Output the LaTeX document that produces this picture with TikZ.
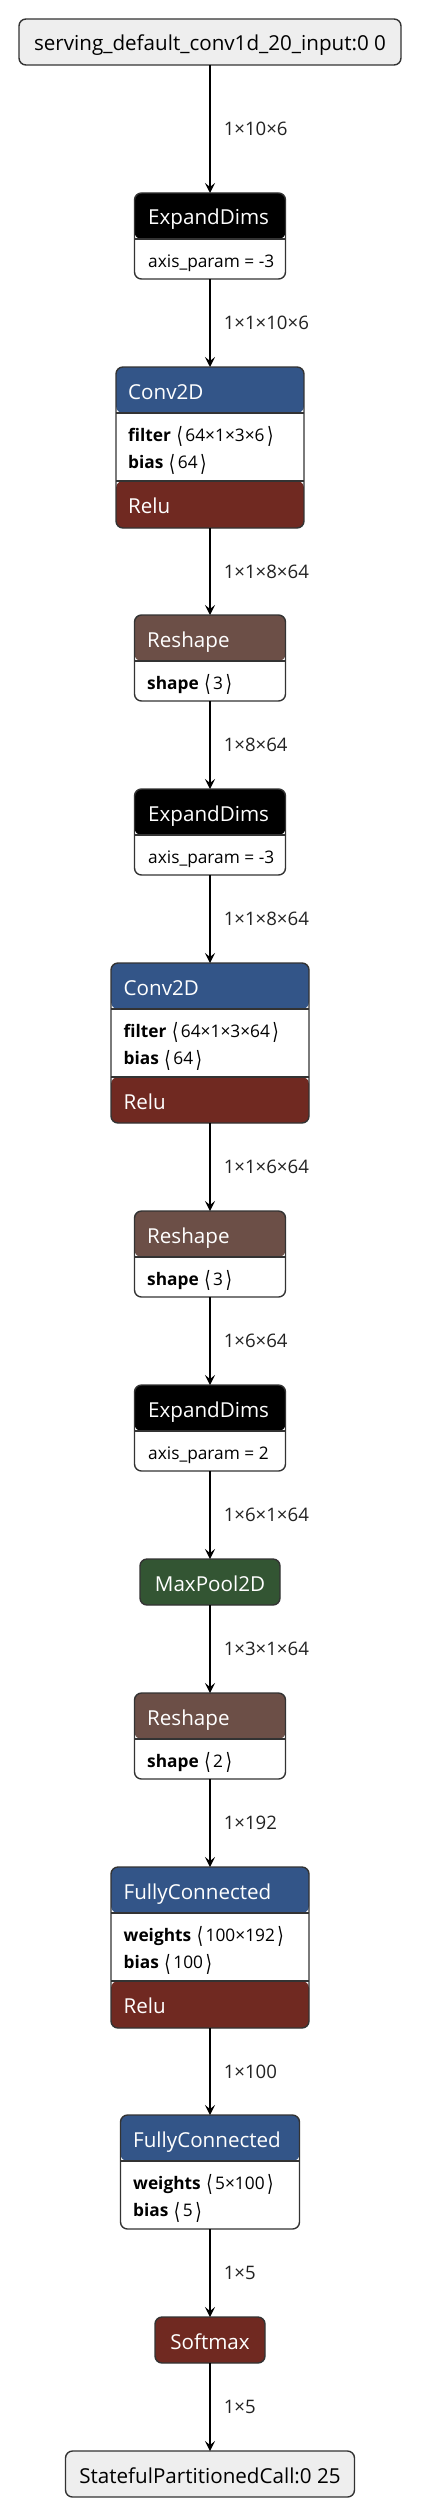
\documentclass[tikz,border=0pt]{standalone}
\usepackage{fontspec}
\usepackage{graphicx}
\setmainfont{Open Sans}
\newfontfamily\symf{DejaVu Sans}
\usetikzlibrary{arrows.meta}
\definecolor{framec}{HTML}{333333}
\definecolor{layerc}{RGB}{51,85,136}
\definecolor{actc}{RGB}{112,41,33}
\definecolor{shapec}{RGB}{108,79,71}
\definecolor{poolc}{RGB}{51,85,51}
\definecolor{ioc}{HTML}{EEEEEE}
\definecolor{labelc}{HTML}{222222}
\newcommand\lb{\hspace{1pt}\raisebox{-0.16em}{\scalebox{0.95}[1.3]{\symf ⟨}}\hspace{2.5pt}}
\newcommand\rb{\hspace{2.5pt}\raisebox{-0.16em}{\scalebox{0.95}[1.3]{\symf ⟩}}}
\newcommand\band[3]{\fill[#3] ([yshift=-#1pt]path picture bounding box.north west) rectangle ([yshift=-#2pt]path picture bounding box.north east);}
\newcommand\divl[1]{\draw[framec, line width=1.4pt] ([yshift=-#1pt]path picture bounding box.north west) -- ([yshift=-#1pt]path picture bounding box.north east);}
\begin{document}
\begin{tikzpicture}[x=1pt, y=-1pt,
  frame/.style={draw=framec, line width=1.4pt, rounded corners=7pt, inner sep=0pt, outer sep=0pt, fill=white},
  io/.style={frame, fill=ioc, text=black, font=\fontsize{20.6}{24}\selectfont, text height=18pt, text depth=0pt},
  simple/.style={frame, text=white, font=\fontsize{20.6}{24}\selectfont, text height=18pt, text depth=0pt},
  title/.style={anchor=base west, inner sep=0pt, text=white, font=\fontsize{20.6}{24}\selectfont},
  attr/.style={anchor=base west, inner sep=0pt, text=black, font=\fontsize{17.3}{20}\selectfont},
  edge/.style={draw=black, line width=1.6pt, -{Stealth[length=10pt, width=10pt, inset=4pt]}},
  elabel/.style={anchor=west, inner sep=0pt, xshift=13pt, text=labelc, font=\fontsize{18.6}{22}\selectfont}
]
\useasboundingbox (0,0) rectangle (422,2518);

% input
\node[io, minimum width=382pt, minimum height=46pt] (in) at (210,42) {serving\_default\_conv1d\_20\_input:0 0};

% ExpandDims 1
\node[frame, minimum width=151pt, minimum height=86pt, path picture={\band{0}{46}{black}\divl{46}}] (exp1) at (210,236) {};
\node[title] (exp1t) at (148,225) {ExpandDims};
\node[attr] (exp1a) at (148,267) {axis\_param = -3};

% Conv2D 1
\node[frame, minimum width=188pt, minimum height=161pt, path picture={\band{0}{46}{layerc}\band{114}{200}{actc}\divl{46}\divl{114}}] (conv1) at (210,447.5) {};
\node[title] (conv1t) at (128,399) {Conv2D};
\node[attr] (conv1a) at (128,441) {\textbf{filter} \lb64×1×3×6\rb};
\node[attr] (conv1b) at (128,468.3) {\textbf{bias} \lb64\rb};
\node[title] (conv1r) at (128,513) {Relu};

% Reshape 1
\node[frame, minimum width=151pt, minimum height=86pt, path picture={\band{0}{46}{shapec}\divl{46}}] (rs1) at (210,658) {};
\node[title] (rs1t) at (147,647) {Reshape};
\node[attr] (rs1a) at (147,689) {\textbf{shape} \lb3\rb};

% ExpandDims 2
\node[frame, minimum width=151pt, minimum height=86pt, path picture={\band{0}{46}{black}\divl{46}}] (exp2) at (210,832) {};
\node[title] (exp2t) at (148,821) {ExpandDims};
\node[attr] (exp2a) at (148,863) {axis\_param = -3};

% Conv2D 2
\node[frame, minimum width=198pt, minimum height=160pt, path picture={\band{0}{46}{layerc}\band{114}{200}{actc}\divl{46}\divl{114}}] (conv2) at (210,1043) {};
\node[title] (conv2t) at (123.5,995) {Conv2D};
\node[attr] (conv2a) at (123.5,1037) {\textbf{filter} \lb64×1×3×64\rb};
\node[attr] (conv2b) at (123.5,1064.3) {\textbf{bias} \lb64\rb};
\node[title] (conv2r) at (123.5,1109) {Relu};

% Reshape 2
\node[frame, minimum width=151pt, minimum height=86pt, path picture={\band{0}{46}{shapec}\divl{46}}] (rs2) at (210,1254) {};
\node[title] (rs2t) at (147,1243) {Reshape};
\node[attr] (rs2a) at (147,1285) {\textbf{shape} \lb3\rb};

% ExpandDims 3
\node[frame, minimum width=151pt, minimum height=86pt, path picture={\band{0}{46}{black}\divl{46}}] (exp3) at (210,1428) {};
\node[title] (exp3t) at (148,1417) {ExpandDims};
\node[attr] (exp3a) at (148,1459) {axis\_param = 2};

% MaxPool2D
\node[simple, fill=poolc, minimum width=140pt, minimum height=46pt] (mp) at (210,1582) {MaxPool2D};

% Reshape 3
\node[frame, minimum width=151pt, minimum height=86pt, path picture={\band{0}{46}{shapec}\divl{46}}] (rs3) at (210,1736) {};
\node[title] (rs3t) at (147,1725) {Reshape};
\node[attr] (rs3a) at (147,1767) {\textbf{shape} \lb2\rb};

% FullyConnected 1
\node[frame, minimum width=198pt, minimum height=161pt, path picture={\band{0}{46}{layerc}\band{114}{200}{actc}\divl{46}\divl{114}}] (fc1) at (210,1947.5) {};
\node[title] (fc1t) at (123.5,1899) {FullyConnected};
\node[attr] (fc1a) at (123.5,1941) {\textbf{weights} \lb100×192\rb};
\node[attr] (fc1b) at (123.5,1968.3) {\textbf{bias} \lb100\rb};
\node[title] (fc1r) at (123.5,2013) {Relu};

% FullyConnected 2
\node[frame, minimum width=179pt, minimum height=114pt, path picture={\band{0}{46}{layerc}\divl{46}}] (fc2) at (210,2172) {};
\node[title] (fc2t) at (133,2147) {FullyConnected};
\node[attr] (fc2a) at (133,2189) {\textbf{weights} \lb5×100\rb};
\node[attr] (fc2b) at (133,2216.3) {\textbf{bias} \lb5\rb};

% Softmax
\node[simple, fill=actc, minimum width=110pt, minimum height=46pt] (sm) at (210,2340) {Softmax};

% output
\node[io, minimum width=289pt, minimum height=46pt] (out) at (210,2474) {StatefulPartitionedCall:0 25};

% edges
\draw[edge] (in.south) -- node[elabel] (l1) {1×10×6} (exp1.north);
\draw[edge] (exp1.south) -- node[elabel] (l2) {1×1×10×6} (conv1.north);
\draw[edge] (conv1.south) -- node[elabel] (l3) {1×1×8×64} (rs1.north);
\draw[edge] (rs1.south) -- node[elabel] (l4) {1×8×64} (exp2.north);
\draw[edge] (exp2.south) -- node[elabel] (l5) {1×1×8×64} (conv2.north);
\draw[edge] (conv2.south) -- node[elabel] (l6) {1×1×6×64} (rs2.north);
\draw[edge] (rs2.south) -- node[elabel] (l7) {1×6×64} (exp3.north);
\draw[edge] (exp3.south) -- node[elabel] (l8) {1×6×1×64} (mp.north);
\draw[edge] (mp.south) -- node[elabel] (l9) {1×3×1×64} (rs3.north);
\draw[edge] (rs3.south) -- node[elabel] (l10) {1×192} (fc1.north);
\draw[edge] (fc1.south) -- node[elabel] (l11) {1×100} (fc2.north);
\draw[edge] (fc2.south) -- node[elabel] (l12) {1×5} (sm.north);
\draw[edge] (sm.south) -- node[elabel] (l13) {1×5} (out.north);
\end{tikzpicture}
\end{document}
